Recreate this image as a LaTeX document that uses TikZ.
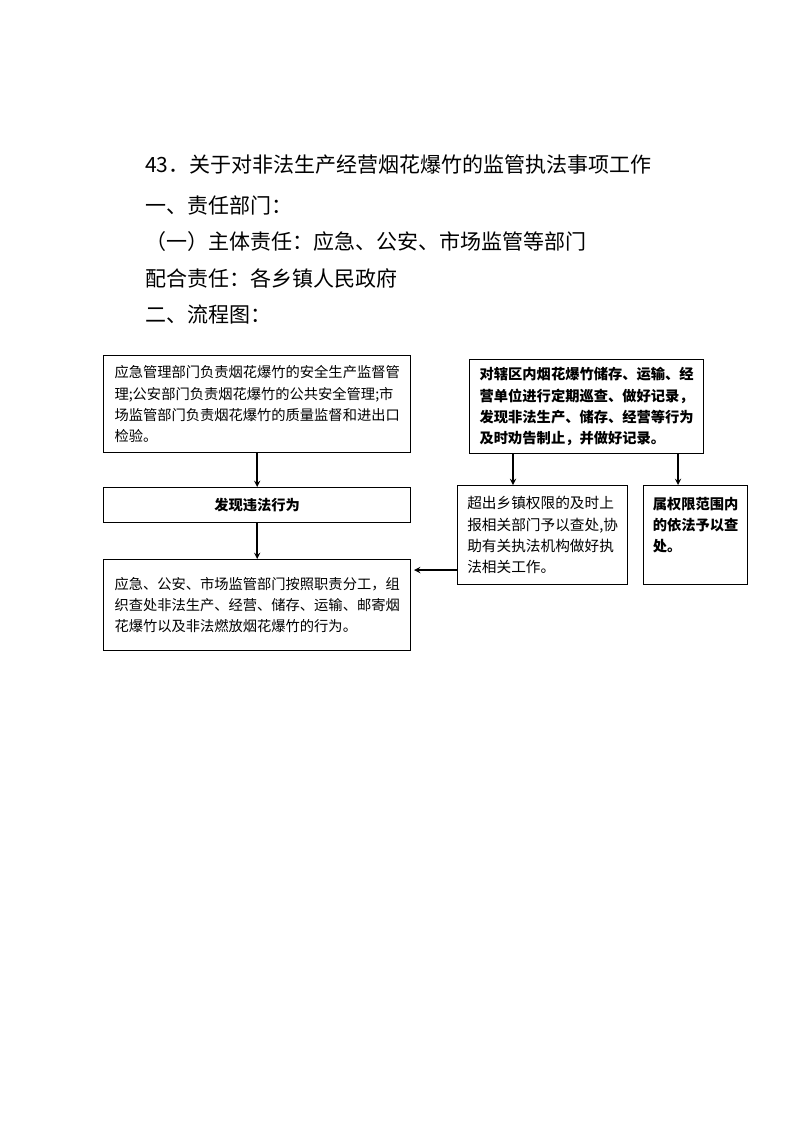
\documentclass[tikz,border=0pt]{standalone}
\usepackage{fontspec}
\newfontfamily\cjk{Noto Sans CJK SC}
\begin{document}
\begin{tikzpicture}[x=0.75pt,y=-0.75pt,
    box/.style={draw, line width=1pt, anchor=north west, inner sep=0pt, align=left,
        font=\cjk\fontsize{10.7}{15.9}\selectfont},
    head/.style={anchor=west, inner sep=0pt, font=\cjk\fontsize{15.75}{18}\selectfont},
    arr/.style={line width=1.1pt, ->, >=stealth}]
    \useasboundingbox (0,0) rectangle (794,1122);

    % Heading lines
    \node[head] (title) at (145,165) {43．关于对非法生产经营烟花爆竹的监管执法事项工作};
    \node[head] (dept) at (145,205) {一、责任部门：};
    \node[head] (main) at (145,242) {（一）主体责任：应急、公安、市场监管等部门};
    \node[head] (assist) at (145,278) {配合责任：各乡镇人民政府};
    \node[head] (flow) at (145,315) {二、流程图：};

    % Left column
    \node[box, minimum width=230.25pt, minimum height=72.75pt] (duty) at (103,355)
        {应急管理部门负责烟花爆竹的安全生产监督管\\
         理;公安部门负责烟花爆竹的公共安全管理;市\\
         场监管部门负责烟花爆竹的质量监督和进出口\\
         检验。};
    \node[box, minimum width=230.25pt, minimum height=26.25pt, align=center,
        font=\cjk\bfseries\fontsize{10.7}{15.9}\selectfont] (found) at (103,487)
        {发现违法行为};
    \node[box, minimum width=230.25pt, minimum height=68.25pt] (handle) at (103,559)
        {应急、公安、市场监管部门按照职责分工，组\\
         织查处非法生产、经营、储存、运输、邮寄烟\\
         花爆竹以及非法燃放烟花爆竹的行为。};

    % Right column
    \node[box, minimum width=175.5pt, minimum height=70.5pt,
        font=\cjk\bfseries\fontsize{10.7}{15.9}\selectfont] (patrol) at (469,359)
        {对辖区内烟花爆竹储存、运输、经\\
         营单位进行定期巡查、做好记录，\\
         发现非法生产、储存、经营等行为\\
         及时劝告制止，并做好记录。};
    \node[box, minimum width=127.5pt, minimum height=74.25pt,
        font=\cjk\fontsize{11}{15.9}\selectfont] (report) at (457,485)
        {超出乡镇权限的及时上\\
         报相关部门予以查处,协\\
         助有关执法机构做好执\\
         法相关工作。};
    \node[box, minimum width=78pt, minimum height=74.25pt,
        font=\cjk\bfseries\fontsize{10.7}{15.9}\selectfont] (local) at (643,485)
        {属权限范围内\\
         的依法予以查\\
         处。\\
         ~};

    % Arrows
    \coordinate (xr) at (513,0);
    \coordinate (xl) at (678,0);
    \coordinate (yh) at (0,570);
    \draw[arr] (duty) -- (found);
    \draw[arr] (found) -- (handle);
    \draw[arr] (patrol.south -| xr) -- (report.north -| xr);
    \draw[arr] (patrol.south -| xl) -- (local.north -| xl);
    \draw[arr, shorten >=2pt] (report.west |- yh) -- (handle.east |- yh);
\end{tikzpicture}
\end{document}
